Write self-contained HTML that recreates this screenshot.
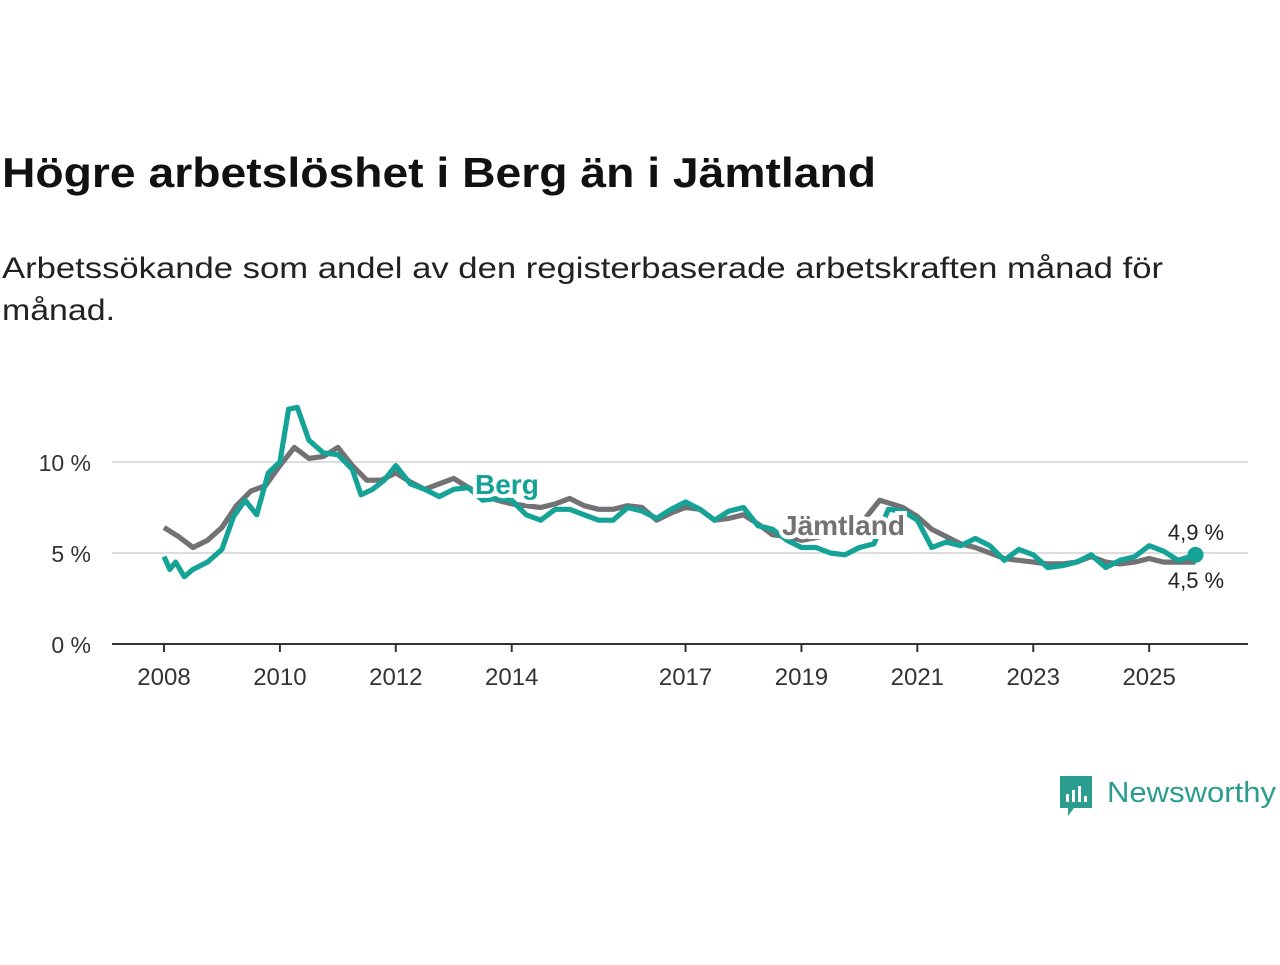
<!DOCTYPE html>
<html><head><meta charset="utf-8"><style>
body{margin:0;background:#fff;font-family:"Liberation Sans",sans-serif;}
</style></head><body>
<svg width="1280" height="960" xmlns="http://www.w3.org/2000/svg">
<text x="2" y="187" font-size="42" font-weight="bold" fill="#111" textLength="874" lengthAdjust="spacingAndGlyphs">Högre arbetslöshet i Berg än i Jämtland</text>
<text x="2" y="278" font-size="30" fill="#222" textLength="1161" lengthAdjust="spacingAndGlyphs">Arbetssökande som andel av den registerbaserade arbetskraften månad för</text>
<text x="2" y="320" font-size="30" fill="#222" textLength="113" lengthAdjust="spacingAndGlyphs">månad.</text>
<g id="grid"></g><g id="xaxis"></g><g id="series"></g><g id="labels"></g>
<g>
<path d="M1060 776 h32 v32 h-18 l-6 8 v-8 h-8 z" fill="#2a9d8f"/>
<rect x="1066" y="794" width="3" height="8" fill="#fff"/><rect x="1072" y="790" width="3" height="12" fill="#fff"/><rect x="1078" y="786" width="3" height="16" fill="#fff"/><rect x="1084" y="796" width="3" height="6" fill="#fff"/>
<text x="1107" y="802" font-size="29" fill="#2a9d8f" textLength="169" lengthAdjust="spacingAndGlyphs">Newsworthy</text>
</g>
</svg>
<script>
const yTicks=[0,5,10];
const xTicks=[2008,2010,2012,2014,2017,2019,2021,2023,2025];
const jamT=[2008,2008.25,2008.5,2008.75,2009,2009.25,2009.5,2009.75,2010,2010.25,2010.5,2010.75,2011,2011.25,2011.5,2011.75,2012,2012.25,2012.5,2012.75,2013,2013.25,2013.5,2013.75,2014,2014.25,2014.5,2014.75,2015,2015.25,2015.5,2015.75,2016,2016.25,2016.5,2016.75,2017,2017.25,2017.5,2017.75,2018,2018.25,2018.5,2018.75,2019,2019.5,2020,2020.35,2020.75,2021,2021.25,2021.5,2021.75,2022,2022.25,2022.5,2022.75,2023,2023.25,2023.5,2023.75,2024,2024.25,2024.5,2024.75,2025,2025.25,2025.5,2025.8];
const jamV=[6.4,5.9,5.3,5.7,6.4,7.6,8.4,8.7,9.8,10.8,10.2,10.3,10.8,9.8,9.0,9.0,9.4,8.9,8.5,8.8,9.1,8.6,8.2,7.9,7.7,7.6,7.5,7.7,8.0,7.6,7.4,7.4,7.6,7.5,6.8,7.2,7.5,7.4,6.8,6.9,7.1,6.6,6.0,5.9,5.7,6.0,6.5,7.9,7.5,7.0,6.3,5.9,5.5,5.3,5.0,4.7,4.6,4.5,4.4,4.4,4.5,4.8,4.5,4.4,4.5,4.7,4.5,4.5,4.5];
const bergT=[2008,2008.1,2008.2,2008.35,2008.5,2008.75,2009,2009.2,2009.4,2009.6,2009.8,2010,2010.15,2010.3,2010.5,2010.75,2011,2011.25,2011.4,2011.6,2011.8,2012,2012.25,2012.5,2012.75,2013,2013.25,2013.5,2013.75,2014,2014.25,2014.5,2014.75,2015,2015.25,2015.5,2015.75,2016,2016.25,2016.5,2016.75,2017,2017.25,2017.5,2017.75,2018,2018.25,2018.5,2018.75,2019,2019.25,2019.5,2019.75,2020,2020.25,2020.5,2020.75,2021,2021.25,2021.5,2021.75,2022,2022.25,2022.5,2022.75,2023,2023.25,2023.5,2023.75,2024,2024.25,2024.5,2024.75,2025,2025.25,2025.5,2025.8];
const bergV=[4.8,4.1,4.5,3.7,4.1,4.5,5.2,7.0,7.9,7.1,9.4,10.0,12.9,13.0,11.2,10.5,10.4,9.6,8.2,8.5,9.0,9.8,8.8,8.5,8.1,8.5,8.6,7.9,8.0,7.9,7.1,6.8,7.4,7.4,7.1,6.8,6.8,7.5,7.3,6.9,7.4,7.8,7.4,6.8,7.3,7.5,6.5,6.3,5.7,5.3,5.3,5.0,4.9,5.3,5.5,7.4,7.3,6.8,5.3,5.6,5.4,5.8,5.4,4.6,5.2,4.9,4.2,4.3,4.5,4.9,4.2,4.6,4.8,5.4,5.1,4.6,4.9];
const NS="http://www.w3.org/2000/svg";
const xs=t=>164+(t-2008)*57.95, ys=v=>644-v*18.2;
function mk(tag,attrs,parent){const e=document.createElementNS(NS,tag);for(const k in attrs)e.setAttribute(k,attrs[k]);document.getElementById(parent).appendChild(e);return e;}
yTicks.forEach(v=>{
 if(v>0){const l=mk('line',{x1:112,x2:1248,y1:ys(v),y2:ys(v),stroke:'#ddd','stroke-width':2},'grid');
 
 }
 const t=mk('text',{x:91,y:ys(v)+9,'font-size':23,fill:'#333','text-anchor':'end'},'grid');t.textContent=v+' %';
 
 
});
const ax=mk('line',{x1:112,x2:1248,y1:644,y2:644,stroke:'#333','stroke-width':2},'xaxis');


xTicks.forEach(y=>{
 const l=mk('line',{x1:xs(y),x2:xs(y),y1:644,y2:652,stroke:'#333','stroke-width':2},'xaxis');
 
 
 const t=mk('text',{x:xs(y),y:685,'font-size':24,fill:'#333','text-anchor':'middle'},'xaxis');t.textContent=y;
 
 
});
function path(T,V){return T.map((t,i)=>(i?'L':'M')+xs(t).toFixed(1)+' '+ys(V[i]).toFixed(1)).join(' ');}
const pj=mk('path',{d:path(jamT,jamV),fill:'none',stroke:'#727174','stroke-width':5.2,'stroke-linejoin':'round'},'series');


const pb=mk('path',{d:path(bergT,bergV),fill:'none',stroke:'#14a396','stroke-width':5.2,'stroke-linejoin':'round'},'series');


const dot=mk('circle',{cx:xs(bergT[bergT.length-1]),cy:ys(bergV[bergV.length-1]),r:8,fill:'#14a396'},'series');


function lab(x,y,txt,fill,bold,name,anchor){
 const h=mk('text',{x,y,'font-size':bold?28:22,'font-weight':bold?'bold':'normal',fill:'#fff',stroke:'#fff','stroke-width':8,'text-anchor':anchor||'start'},'labels');h.textContent=txt;
 
 
 const t=mk('text',{x,y,'font-size':bold?28:22,'font-weight':bold?'bold':'normal',fill,'text-anchor':anchor||'start'},'labels');t.textContent=txt;
 
 
}
lab(475,494,'Berg','#14a396',true,'berg-label');
lab(782,535,'Jämtland','#727174',true,'jamtland-label');
lab(1196,540,'4,9 %','#222',false,'berg-end-value','middle');
lab(1196,588,'4,5 %','#222',false,'jamtland-end-value','middle');
</script>
</body></html>
